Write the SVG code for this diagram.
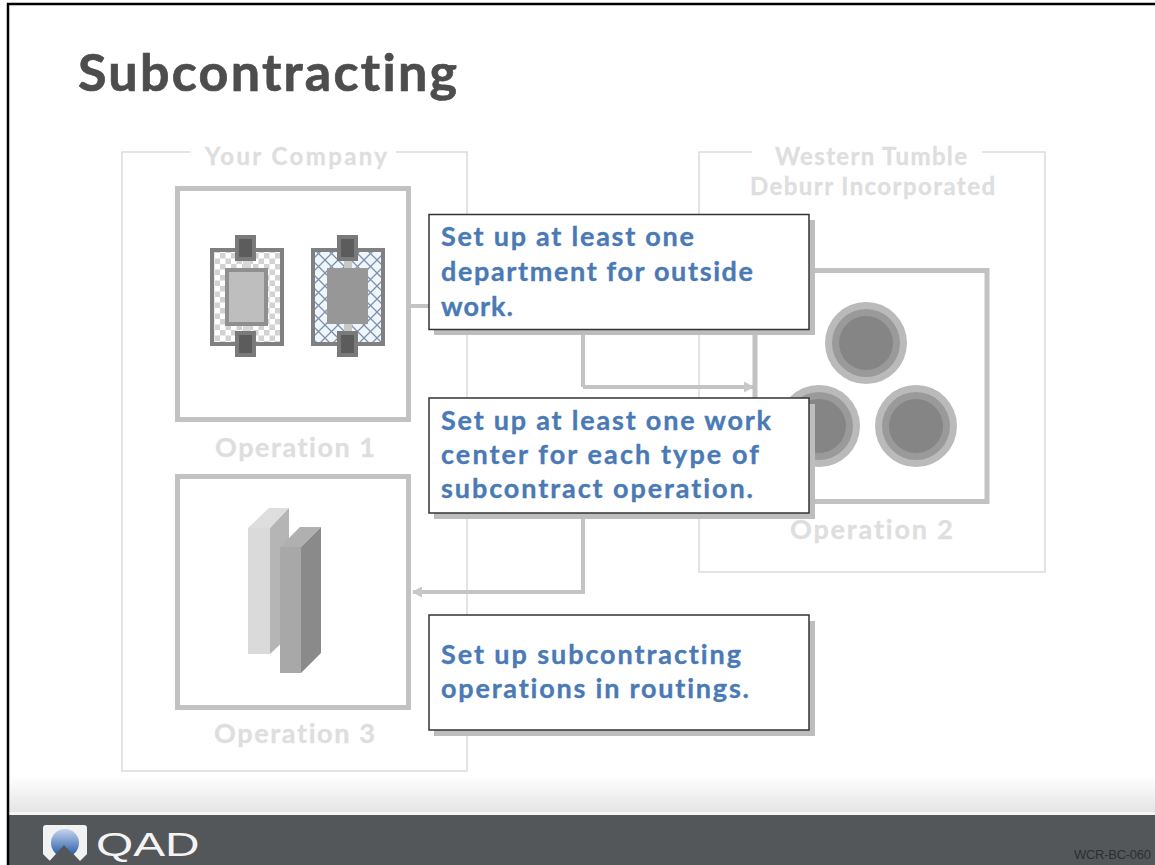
<svg xmlns="http://www.w3.org/2000/svg" width="1155" height="865" viewBox="0 0 1155 865">
<style>
.t{font-family:Lato,"Liberation Sans",sans-serif;font-weight:700;font-variant-ligatures:none}
.lbl{font-size:27px;fill:#dedede;stroke:#dedede;stroke-width:.3}
.hd{font-size:24px;fill:#dedede;stroke:#dedede;stroke-width:.3}
.co{font-size:27px;fill:#4a7ab5;stroke:#4a7ab5;stroke-width:.35}
.fr{fill:none;stroke:#dcdcdc;stroke-width:1.5}
.op{fill:#fff;stroke:#c2c2c2;stroke-width:5}
.conn{fill:none;stroke:#c4c4c4;stroke-width:4}
.box{fill:#fff;stroke:#333;stroke-width:1.5}
.sh{fill:#bdbdbd}
.pin{fill:#5c5c5c;stroke:#7a7a7a;stroke-width:4}
.o{fill:#bababa}.m{fill:#9a9a9a}.i{fill:#858585}
</style>
<defs>
<linearGradient id="fade" x1="0" y1="0" x2="0" y2="1"><stop offset="0" stop-color="#fff"/><stop offset="1" stop-color="#e4e4e4"/></linearGradient>
<linearGradient id="ball" x1="0" y1="0" x2="0" y2="1"><stop offset="0" stop-color="#c5d5ee"/><stop offset="1" stop-color="#1f55a5"/></linearGradient>
<pattern id="chk" width="11" height="11" patternUnits="userSpaceOnUse"><rect width="11" height="11" fill="#fff"/><rect width="5.500" height="5.500" fill="#d2d2d2"/><rect x="5.500" y="5.500" width="5.500" height="5.500" fill="#d2d2d2"/></pattern>
<pattern id="xh" width="13" height="13" patternUnits="userSpaceOnUse"><rect width="13" height="13" fill="#eef6fb"/><path d="M0 0L13 13M13 0L0 13" stroke="#7f90ad" stroke-width="1.3"/></pattern>
<marker id="ah" markerUnits="userSpaceOnUse" markerWidth="10" markerHeight="11" refX="9" refY="5.500" orient="auto"><path d="M0 0L10 5.500L0 11Z" fill="#c8c8c8"/></marker>
</defs>
<rect width="1155" height="865" fill="#fff"/>
<g id="footer">
<rect x="8" y="775" width="1147" height="38" fill="url(#fade)"/>
<rect x="8" y="815" width="1147" height="50" fill="#54575a"/>
<rect x="8" y="812" width="1147" height="3" fill="#f5f5f5"/>
<path d="M43 828Q43 825 46 825H84Q87 825 87 828V854L80 861L65 845L50 861L43 854Z" fill="#f2f2f2"/>
<circle cx="65" cy="843" r="14" fill="url(#ball)"/>
<path d="M46 865L64 845L82 865Z" fill="#54575a"/>
<text transform="translate(96 856) scale(1.45 1)" style="font-family:'Liberation Sans',sans-serif;font-size:33px;fill:#f4f4f4">QAD</text>
<text x="1074" y="859" textLength="77" style="font-family:'Liberation Sans',sans-serif;font-size:13px;fill:#2e2e2e">WCR-BC-060</text>
</g>
<path d="M8 865V4H1155" fill="none" stroke="#000" stroke-width="2.500"/>
<text class="t" x="78" y="91" textLength="379" style="font-size:52px;fill:#4d4d4d;stroke:#4d4d4d;stroke-width:.7">Subcontracting</text>
<g id="your-company">
<path class="fr" d="M190 152H122V771H467V152H396"/>
<text class="t hd" x="205" y="165" textLength="182">Your Company</text>
</g>
<g id="western-tumble">
<path class="fr" d="M752 152H699V572H1045V152H982"/>
<text class="t hd" x="775" y="165" textLength="192">Western Tumble</text>
<text class="t hd" x="750" y="195" textLength="245">Deburr Incorporated</text>
</g>
<g id="connectors">
<path class="conn" d="M410 306H430"/>
<path class="conn" d="M583 330V387"/>
<path class="conn" d="M583 387H753" marker-end="url(#ah)"/>
<path class="conn" d="M583 515V592H413" marker-end="url(#ah)"/>
</g>
<g id="operation-1">
<rect class="op" x="177.500" y="188.500" width="231" height="231"/>
<rect x="212" y="250" width="70" height="94" fill="url(#chk)" stroke="#808080" stroke-width="4"/>
<rect x="243" y="258" width="8" height="74" fill="#d8d8d8"/>
<rect x="227" y="270" width="39" height="54" fill="#bebebe" stroke="#8f8f8f" stroke-width="4"/>
<rect class="pin" x="237" y="237" width="17" height="22"/>
<rect class="pin" x="237" y="333" width="17" height="22"/>
<rect x="313" y="250" width="70" height="94" fill="url(#xh)" stroke="#808080" stroke-width="4"/>
<rect x="344" y="258" width="8" height="74" fill="#c8c8c8"/>
<rect x="327" y="268" width="41" height="56" fill="#979797"/>
<rect class="pin" x="339" y="237" width="17" height="22"/>
<rect class="pin" x="339" y="333" width="17" height="22"/>
<text class="t lbl" x="215" y="457" textLength="160">Operation 1</text>
</g>
<g id="operation-2">
<rect class="op" x="755" y="270.500" width="232" height="231"/>
<circle class="o" cx="866" cy="343" r="41"/><circle class="m" cx="866" cy="343" r="34"/><circle class="i" cx="866" cy="343" r="27"/>
<circle class="o" cx="819" cy="426" r="41"/><circle class="m" cx="819" cy="426" r="34"/><circle class="i" cx="819" cy="426" r="27"/>
<circle class="o" cx="916" cy="426" r="41"/><circle class="m" cx="916" cy="426" r="34"/><circle class="i" cx="916" cy="426" r="27"/>
<text class="t lbl" x="790" y="539" textLength="163">Operation 2</text>
</g>
<g id="operation-3">
<rect class="op" x="177.500" y="476.500" width="231" height="231"/>
<path d="M248 528L269 508H289L270 528Z" fill="#dedede"/>
<rect x="248" y="528" width="22" height="126" fill="#dadada"/>
<path d="M270 528L289 508V636L270 654Z" fill="#b5b5b5"/>
<path d="M280 547L300 527H321L301 547Z" fill="#b0b0b0"/>
<rect x="280" y="547" width="21" height="126" fill="#a8a8a8"/>
<path d="M301 547L321 527V653L301 673Z" fill="#8a8a8a"/>
<text class="t lbl" x="214" y="743" textLength="161">Operation 3</text>
</g>
<g id="callout-1">
<rect class="sh" x="434" y="220" width="381" height="115"/>
<rect class="box" x="429" y="214.500" width="380" height="115"/>
<text class="t co" x="441" y="246" textLength="253">Set up at least one</text>
<text class="t co" x="441" y="281" textLength="312">department for outside</text>
<text class="t co" x="441" y="316" textLength="72">work.</text>
</g>
<g id="callout-2">
<rect class="sh" x="434" y="404" width="381" height="115"/>
<rect class="box" x="429" y="398" width="380" height="115"/>
<text class="t co" x="441" y="430" textLength="330">Set up at least one work</text>
<text class="t co" x="441" y="464" textLength="318">center for each type of</text>
<text class="t co" x="441" y="498" textLength="312">subcontract operation.</text>
</g>
<g id="callout-3">
<rect class="sh" x="434" y="621" width="381" height="115"/>
<rect class="box" x="429" y="615" width="380" height="115"/>
<text class="t co" x="441" y="664" textLength="300">Set up subcontracting</text>
<text class="t co" x="441" y="698" textLength="308">operations in routings.</text>
</g>
</svg>
